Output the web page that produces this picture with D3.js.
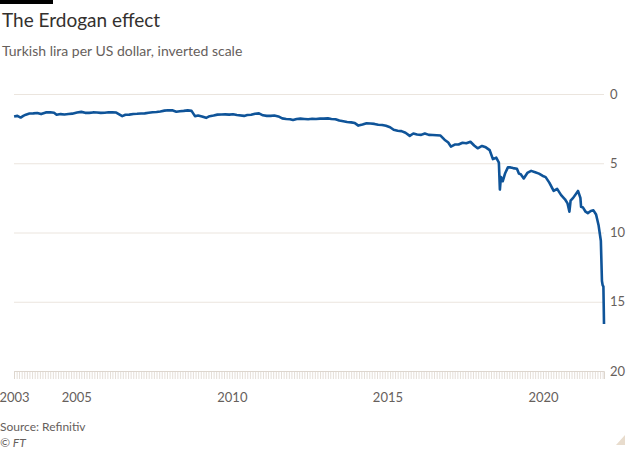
<!DOCTYPE html>
<html lang="en">
  <head>
    <meta charset="utf-8">
    <title>The Erdogan effect</title>
    <script type="text/javascript" src="https://d3js.org/d3.v7.min.js"></script>
    <style>
    body {
      margin:0;
      background-color:#ffffff;
    }
    svg text {
      font-family:Lato, "Open Sans", sans-serif;
    }
    </style>
  </head>
  <body>
    <div id="chart"></div>
    <script type="text/javascript">
// USD/TRY (date, lira per dollar)
const dates = ["2003-01-02","2003-02-10","2003-03-20","2003-04-20","2003-05-20","2003-07-01","2003-08-15","2003-10-01","2003-11-15",
  "2004-01-10","2004-03-01","2004-04-15","2004-05-15","2004-07-01","2004-08-15","2004-10-01","2004-11-15",
  "2005-01-10","2005-03-01","2005-04-15","2005-06-01","2005-07-15","2005-09-01","2005-10-15","2005-12-01",
  "2006-01-15","2006-03-01","2006-04-15","2006-05-15","2006-06-25","2006-08-01","2006-09-15","2006-11-01","2006-12-15",
  "2007-02-01","2007-03-15","2007-05-01","2007-06-15","2007-08-01","2007-09-15","2007-11-01","2007-12-15",
  "2008-02-01","2008-03-20","2008-05-01","2008-06-15","2008-08-01","2008-09-15","2008-10-25","2008-12-01",
  "2009-01-15","2009-03-05","2009-04-15","2009-06-01","2009-07-15","2009-09-01","2009-10-15","2009-12-01",
  "2010-01-15","2010-03-01","2010-05-25","2010-07-01","2010-08-15","2010-10-01","2010-11-15",
  "2011-01-01","2011-02-15","2011-04-01","2011-05-15","2011-07-01","2011-08-15","2011-10-01","2011-11-15","2011-12-20",
  "2012-02-01","2012-03-15","2012-05-01","2012-06-15","2012-08-01","2012-09-15","2012-11-01","2012-12-15",
  "2013-02-01","2013-03-15","2013-05-01","2013-06-15","2013-08-01","2013-09-15","2013-11-01","2013-12-15",
  "2014-01-25","2014-03-15","2014-05-01","2014-06-15","2014-08-01","2014-09-15","2014-11-01","2014-12-15",
  "2015-02-01","2015-03-15","2015-05-01","2015-06-15","2015-08-01","2015-09-20","2015-11-01","2015-12-15",
  "2016-02-01","2016-03-15","2016-05-01","2016-06-15","2016-08-01","2016-09-15","2016-11-01","2016-12-15",
  "2017-01-15","2017-03-01","2017-04-15","2017-06-01","2017-07-15","2017-09-01","2017-10-15","2017-11-25",
  "2018-01-15","2018-03-01","2018-04-15","2018-05-23","2018-07-01","2018-08-01","2018-08-13","2018-08-25","2018-09-15","2018-10-15","2018-11-15","2018-12-15",
  "2019-01-15","2019-03-01","2019-03-25","2019-04-15","2019-05-20","2019-07-01","2019-08-15","2019-10-01","2019-11-15","2019-12-25",
  "2020-02-01","2020-03-15","2020-05-05","2020-06-15","2020-08-01","2020-09-15","2020-10-15","2020-11-06","2020-11-20","2020-12-20",
  "2021-02-15","2021-03-15","2021-03-23","2021-04-15","2021-05-15","2021-06-10","2021-07-15","2021-08-15","2021-09-15","2021-10-15","2021-11-10","2021-11-23","2021-12-01","2021-12-10","2021-12-17"];
const usdtry = [1.63,1.58,1.70,1.58,1.49,1.41,1.40,1.37,1.45,
  1.33,1.32,1.36,1.50,1.45,1.48,1.44,1.42,
  1.34,1.29,1.36,1.36,1.33,1.34,1.36,1.35,
  1.32,1.33,1.34,1.45,1.60,1.50,1.49,1.44,1.43,
  1.41,1.40,1.36,1.32,1.30,1.26,1.20,1.17,
  1.18,1.28,1.24,1.22,1.18,1.22,1.60,1.55,
  1.62,1.72,1.60,1.55,1.49,1.48,1.47,1.49,
  1.46,1.52,1.58,1.52,1.50,1.43,1.40,
  1.54,1.58,1.58,1.55,1.62,1.76,1.80,1.82,1.88,
  1.80,1.78,1.80,1.82,1.79,1.80,1.78,1.78,
  1.76,1.80,1.82,1.92,1.97,2.02,2.05,2.10,
  2.28,2.20,2.11,2.13,2.16,2.22,2.24,2.30,
  2.40,2.58,2.65,2.68,2.80,3.02,2.85,2.92,
  2.95,2.85,2.95,2.96,2.98,3.00,3.30,3.50,
  3.80,3.65,3.65,3.52,3.55,3.45,3.72,3.92,
  3.75,3.85,4.05,4.70,4.60,4.95,6.90,6.00,6.30,5.70,5.30,5.30,
  5.35,5.40,5.75,5.80,6.10,5.70,5.55,5.65,5.75,5.90,
  6.00,6.40,7.00,6.85,7.30,7.60,7.90,8.50,7.70,7.50,
  7.00,7.50,8.15,8.20,8.50,8.60,8.45,8.40,8.70,9.50,10.60,13.50,13.80,13.90,16.60];

const yTicks = [0, 5, 10, 15, 20];
const yearLabels = [2003, 2005, 2010, 2015, 2020];

const width = 630, height = 450;
const parse = d3.timeParse("%Y-%m-%d");
const series = dates.map((d, i) => ({date: parse(d), value: usdtry[i]}));

const svg = d3.select("#chart").append("svg").attr("width", width).attr("height", height);

const x = d3.scaleTime()
  .domain([new Date(2003, 0, 1), new Date(2021, 11, 17)])
  .range([14, 604]);
// inverted: 0 at top
const y = d3.scaleLinear().domain([0, 20]).range([94, 371]);

// top black bar
svg.append("rect").attr("x", 0).attr("y", 0).attr("width", 53).attr("height", 4).attr("fill", "#000000");

svg.append("text").attr("x", 2).attr("y", 27).attr("font-size", "19px").attr("fill", "#33302e")
  .text("The Erdogan effect");
svg.append("text").attr("x", 2).attr("y", 56).attr("font-size", "14px").attr("fill", "#66605c")
  .text("Turkish lira per US dollar, inverted scale");

// gridlines + right labels
const yAxis = svg.append("g").attr("transform", `translate(${x.range()[1]},0)`)
  .call(d3.axisRight(y).tickValues(yTicks).tickSize(-(x.range()[1] - x.range()[0])).tickPadding(6));
yAxis.select(".domain").remove();
yAxis.selectAll(".tick line").attr("stroke", "#ebe5de").attr("stroke-width", 1);
yAxis.selectAll(".tick text").attr("font-size", "13px").attr("fill", "#66605c")
  .attr("font-family", "Lato, sans-serif");

// dense monthly ticks on the baseline
const xAxis = svg.append("g").attr("transform", `translate(0,${y(20)})`)
  .call(d3.axisBottom(x).ticks(d3.timeMonth.every(1)).tickSize(8).tickFormat(""));
xAxis.select(".domain").attr("stroke", "#ddd6ce");
xAxis.selectAll(".tick line").attr("stroke", "#ddd6ce").attr("stroke-width", 0.8);

// year labels
const years = svg.append("g").attr("transform", `translate(0,${y(20)})`)
  .call(d3.axisBottom(x).tickValues(yearLabels.map(v => new Date(v, 0, 1))).tickSize(0).tickPadding(22)
    .tickFormat(d3.timeFormat("%Y")));
years.select(".domain").remove();
years.selectAll(".tick text").attr("font-size", "13px").attr("fill", "#66605c")
  .attr("font-family", "Lato, sans-serif");

const line = d3.line().x(d => x(d.date)).y(d => y(d.value));
svg.append("path").datum(series)
  .attr("fill", "none")
  .attr("stroke", "#0f5499")
  .attr("stroke-width", 2.6)
  .attr("stroke-linejoin", "round")
  .attr("d", line);

svg.append("text").attr("x", 0).attr("y", 431).attr("font-size", "12px").attr("fill", "#66605c")
  .text("Source: Refinitiv");
svg.append("text").attr("x", 0).attr("y", 447).attr("font-size", "12px").attr("fill", "#66605c")
  .attr("font-style", "italic").text("© FT");

// corner mark
svg.append("path").attr("d", "M625,435 L625,445 L616,445 Z").attr("fill", "#e8dccd");
    </script>
  </body>
</html>
